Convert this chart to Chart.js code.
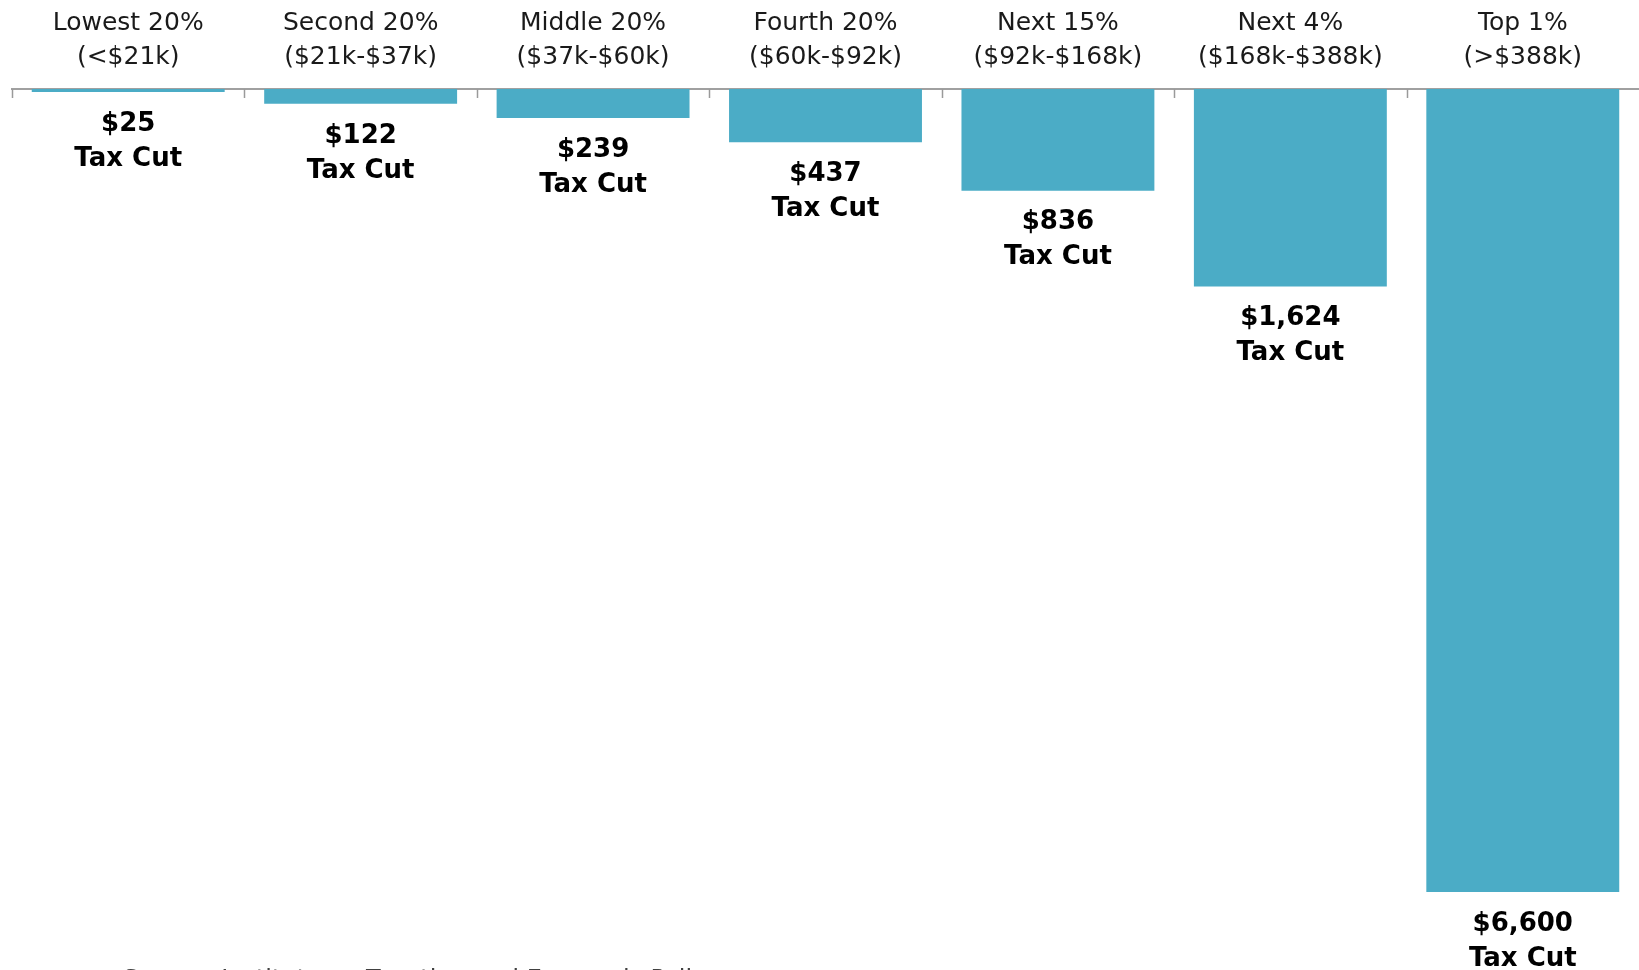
<!DOCTYPE html>
<html>
<head>
<meta charset="utf-8">
<script src="https://cdn.jsdelivr.net/npm/chart.js@4.4.1/dist/chart.umd.min.js"></script>
<style>
html,body{margin:0;padding:0;background:#fff;}
#wrap{position:relative;width:1639px;height:970px;}
</style>
</head>
<body>
<div id="wrap"><canvas id="c"></canvas></div>
<script>
const groups = ["Lowest 20%", "Second 20%", "Middle 20%", "Fourth 20%", "Next 15%", "Next 4%", "Top 1%"];
const incomeRanges = ["(<$21k)", "($21k-$37k)", "($37k-$60k)", "($60k-$92k)", "($92k-$168k)", "($168k-$388k)", "(>$388k)"];
const taxCut = [25, 122, 239, 437, 836, 1624, 6600];
const sourceNote = "Source: Institute on Taxation and Economic Policy";

const labels = groups.map((g, i) => [g, incomeRanges[i]]);

const valueLabels = {
  id: 'valueLabels',
  afterDatasetsDraw(chart) {
    const ctx = chart.ctx;
    const meta = chart.getDatasetMeta(0);
    ctx.save();
    ctx.fillStyle = '#000';
    ctx.textAlign = 'center';
    ctx.textBaseline = 'middle';
    ctx.font = 'bold 26px "DejaVu Sans", sans-serif';
    meta.data.forEach((bar, i) => {
      const x = bar.x;
      const y = bar.y;
      ctx.fillText('$' + taxCut[i].toLocaleString('en-US'), x, y + 32);
      ctx.fillText('Tax Cut', x, y + 67);
    });
    ctx.restore();
  }
};

const insideTicks = {
  id: 'insideTicks',
  afterDraw(chart) {
    const ctx = chart.ctx;
    const xs = chart.scales.x;
    const n = labels.length;
    const top = chart.chartArea.top;
    const step = xs.getPixelForValue(1) - xs.getPixelForValue(0);
    ctx.save();
    ctx.strokeStyle = '#9a9a9a';
    ctx.lineWidth = 1.5;
    for (let i = 0; i < n; i++) {
      const x = Math.round(xs.getPixelForValue(i) - step / 2) + 0.5;
      ctx.beginPath();
      ctx.moveTo(x, top);
      ctx.lineTo(x, top + 9);
      ctx.stroke();
    }
    // source note (cut off at the bottom edge)
    ctx.fillStyle = '#404040';
    ctx.font = '24px "DejaVu Sans", sans-serif';
    ctx.textAlign = 'left';
    ctx.textBaseline = 'alphabetic';
    ctx.fillText(sourceNote, 123, 986.5);
    ctx.restore();
  }
};

new Chart(document.getElementById('c'), {
  type: 'bar',
  data: {
    labels: labels,
    datasets: [{
      data: taxCut,
      backgroundColor: '#4BACC6',
      borderWidth: 0,
      barPercentage: 0.83,
      categoryPercentage: 1.0
    }]
  },
  options: {
    responsive: true,
    maintainAspectRatio: false,
    animation: false,
    layout: { padding: { left: 12, right: 0, top: -8, bottom: 0 } },
    plugins: {
      legend: { display: false },
      tooltip: { enabled: false }
    },
    scales: {
      x: {
        position: 'top',
        offset: true,
        grid: { display: false, drawTicks: false },
        border: { display: true, color: '#a0a0a0', width: 2 },
        ticks: {
          color: '#1a1a1a',
          font: { family: '"DejaVu Sans", sans-serif', size: 25, lineHeight: 1.34 },
          padding: 15,
          maxRotation: 0,
          autoSkip: false
        }
      },
      y: {
        display: false,
        reverse: true,
        min: 0,
        max: 7240
      }
    }
  },
  plugins: [valueLabels, insideTicks]
});
</script>
</body>
</html>
